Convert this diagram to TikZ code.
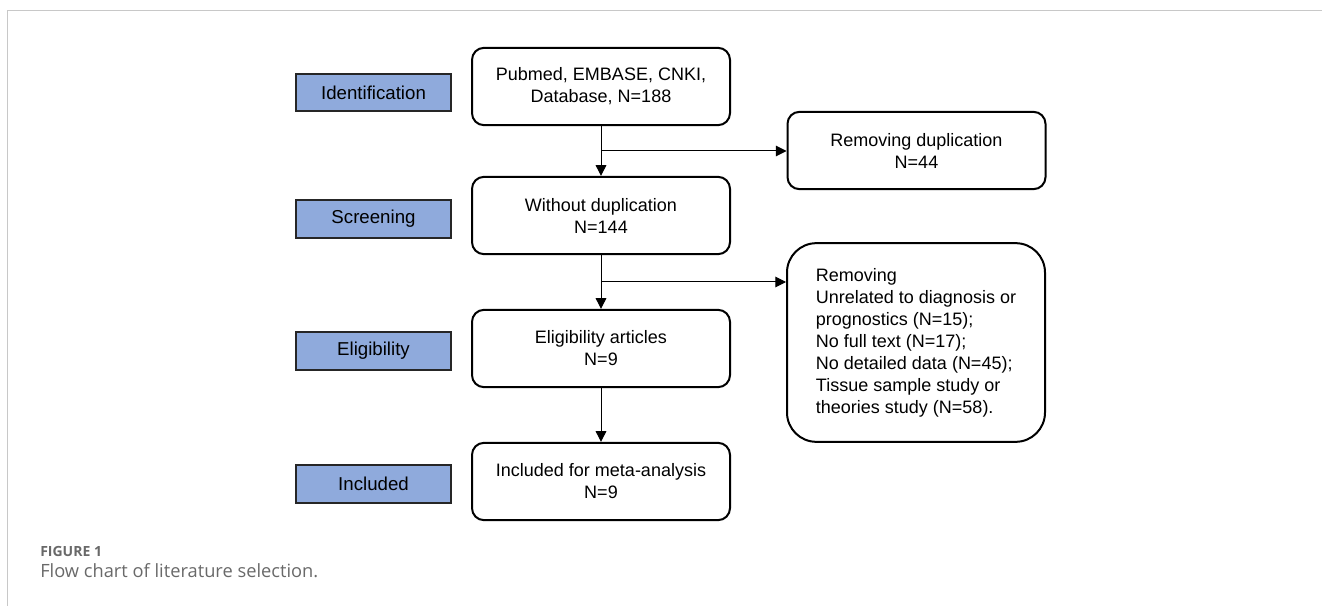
\documentclass[tikz,border=0pt]{standalone}
\usepackage{fontspec}
\setmainfont{Liberation Sans}
\newfontfamily\captionfont{Open Sans}
\usepackage{xcolor}
\usetikzlibrary{
    arrows.meta,
    calc
}

\definecolor{stageblue}{RGB}{143,170,220}
\definecolor{framegray}{RGB}{200,200,200}
\definecolor{captiongray}{RGB}{105,105,105}

\begin{document}
\begin{tikzpicture}[
    x=0.75pt, y=-0.75pt,
    font=\fontsize{13.5}{16.5}\selectfont,
    stage/.style={
        rectangle,
        draw=black!85,
        line width=1.5pt,
        fill=stageblue,
        inner sep=0pt,
        minimum width=116pt,
        minimum height=28pt,
        font=\fontsize{14}{16}\selectfont
    },
    box/.style={
        rectangle,
        rounded corners=9pt,
        draw=black,
        line width=1.5pt,
        align=center,
        inner sep=0pt,
        minimum width=193.5pt,
        minimum height=58pt,
        fill=white
    },
    notebox/.style={
        box,
        rounded corners=22pt,
        align=left,
        minimum height=149pt
    },
    arrow/.style={
        -{Triangle[length=8pt,width=8pt]},
        line width=0.75pt
    },
    caption/.style={
        anchor=base west,
        inner sep=0pt,
        text=captiongray
    }
]
\useasboundingbox (0,0) rectangle (1322,606);

% =========================================================
% Frame and caption
% =========================================================
\draw[framegray, line width=0.75pt] (7,606) -- (7,11) -- (1322,11);

\node[caption, font=\captionfont\bfseries\fontsize{10.5}{12}\selectfont] (figlabel) at (40,556)
{FIGURE 1};

\node[caption, font=\captionfont\fontsize{13.7}{15}\selectfont] (figtitle) at (40,577)
{Flow chart of literature selection.};

% =========================================================
% Stage labels
% =========================================================
\node[stage] (ident) at (373.5,92.5) {Identification};
\node[stage] (screen) at (373.5,219) {Screening};
\node[stage] (elig) at (373.5,351) {Eligibility};
\node[stage] (incl) at (373.5,484) {Included};

% =========================================================
% Main selection flow
% =========================================================
\node[box] (records) at (601,86.5)
{Pubmed, EMBASE, CNKI,\\Database, N=188};

\node[box] (nodup) at (601,215.5)
{Without duplication\\N=144};

\node[box] (eligart) at (601,348.5)
{Eligibility articles\\N=9};

\node[box] (meta) at (601,481.5)
{Included for meta-analysis\\N=9};

% =========================================================
% Removed records
% =========================================================
\node[box] (dup) at (916.5,150.5)
{Removing duplication\\N=44};

\node[notebox] (excl) at (916,342.5)
{Removing\\Unrelated to diagnosis or\\prognostics (N=15);\\No full text (N=17);\\No detailed data (N=45);\\Tissue sample study or\\theories study (N=58).};

% =========================================================
% Arrows
% =========================================================
\coordinate (split1) at ($(records.south)!0.5!(nodup.north)$);
\coordinate (split2) at ($(nodup.south)!0.5!(eligart.north)$);

\draw[arrow] (records) -- (nodup);
\draw[arrow] (nodup) -- (eligart);
\draw[arrow] (eligart) -- (meta);

\draw[arrow] (split1) -- (split1 -| dup.west);
\draw[arrow] (split2) -- (split2 -| excl.west);

\end{tikzpicture}
\end{document}
